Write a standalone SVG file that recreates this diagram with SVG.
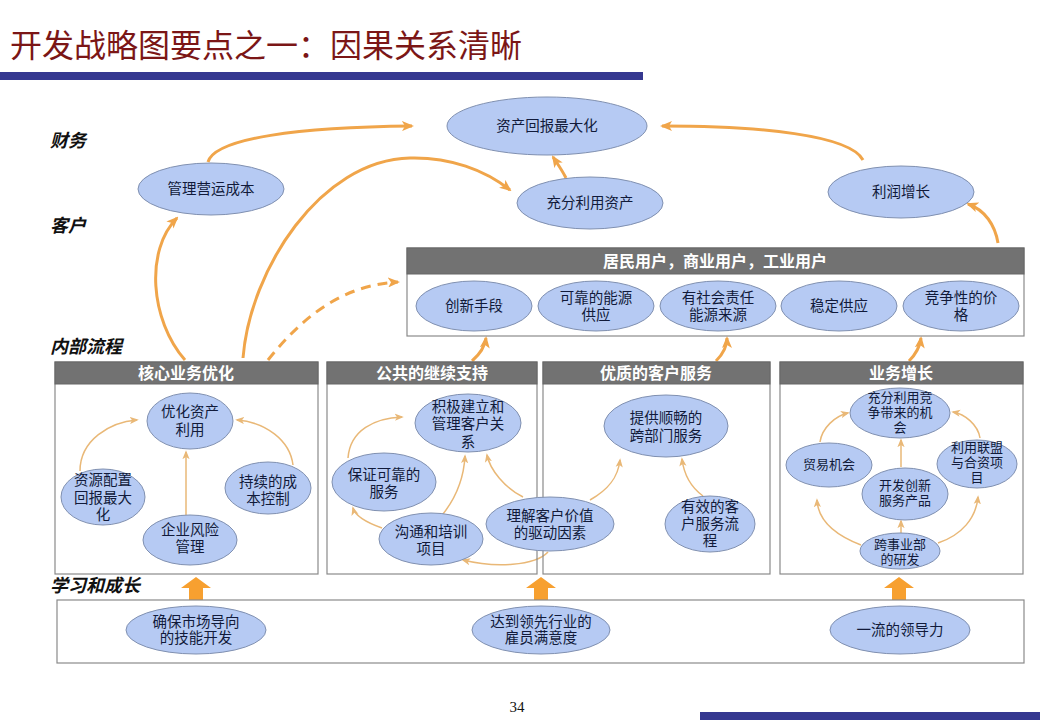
<svg xmlns="http://www.w3.org/2000/svg" width="1040" height="720" viewBox="0 0 1040 720">
<style>
.t{font-family:"Liberation Sans","Noto Sans CJK SC",sans-serif;fill:#111a3a;text-anchor:middle;font-size:14.5px}
.s{font-size:13px}
.e{fill:#b6caf3;stroke:#8090b0;stroke-width:1}
.hd{fill:#727272;stroke:#666;stroke-width:1}
.bx{fill:none;stroke:#8a8a8a;stroke-width:1.2}
.ht{font-family:"Liberation Sans","Noto Sans CJK SC",sans-serif;fill:#fff;font-weight:bold;text-anchor:middle;font-size:16px}
.lv{font-family:"Liberation Serif","Noto Sans CJK SC",serif;font-style:italic;font-weight:bold;font-size:18px;fill:#111}
.k{fill:none;stroke:#f0a54a;stroke-width:3}
.n{fill:none;stroke:#e9b877;stroke-width:1.5}
</style>
<defs>
<marker id="ak" viewBox="0 0 12 10" refX="10" refY="5" markerWidth="12" markerHeight="10" markerUnits="userSpaceOnUse" orient="auto"><path d="M0,0 L12,5 L0,10 L3,5 z" fill="#f0a54a"/></marker>
<marker id="an" viewBox="0 0 10 8" refX="8" refY="4" markerWidth="9" markerHeight="8" markerUnits="userSpaceOnUse" orient="auto"><path d="M0,0 L10,4 L0,8 L2.5,4 z" fill="#e9b877"/></marker>
</defs>
<rect width="1040" height="720" fill="#fff"/>
<text x="10" y="57" font-family="Liberation Serif,Noto Sans CJK SC,serif" font-size="32" fill="#7b1616">开发战略图要点之一：因果关系清晰</text>
<rect x="0" y="72" width="643" height="8" fill="#353890"/>
<rect x="700" y="712" width="340" height="8" fill="#353890"/>
<text x="517" y="712" font-family="Liberation Serif,serif" font-size="15" text-anchor="middle" fill="#111">34</text>

<text class="lv" x="50" y="147">财务</text>
<text class="lv" x="50" y="232">客户</text>
<text class="lv" x="50" y="353">内部流程</text>
<text class="lv" x="50" y="592">学习和成长</text>

<g id="connectors">
<path class="k" marker-end="url(#ak)" d="M208,162 C 215,138 300,127 412,126"/>
<path class="k" marker-end="url(#ak)" d="M243,358 C 250,270 320,160 410,158 C 450,157 485,170 510,190"/>
<path class="k" marker-end="url(#ak)" d="M566,178 C 562,170 557,163 553,157"/>
<path class="k" marker-end="url(#ak)" d="M863,160 C 850,135 760,126 662,126"/>
<path class="k" marker-end="url(#ak)" d="M998,243 C 995,225 985,210 968,204"/>
<path class="k" marker-end="url(#ak)" d="M185,360 C 150,320 145,250 177,218"/>
<path class="k" stroke-dasharray="10 7" marker-end="url(#ak)" d="M268,360 C 300,320 340,285 398,282"/>
<path class="k" marker-end="url(#ak)" d="M472,361 C 480,354 485,346 486,338"/>
<path class="k" marker-end="url(#ak)" d="M716,361 C 723,354 727,346 727,338"/>
<path class="k" marker-end="url(#ak)" d="M909,361 C 916,354 920,346 921,338"/>
<path class="n" marker-end="url(#an)" d="M80,471 C 80,440 110,422 137,420"/>
<path class="n" marker-end="url(#an)" d="M293,465 C 290,440 265,422 237,420"/>
<path class="n" marker-end="url(#an)" d="M186,515 L186,452"/>
<path class="n" marker-end="url(#an)" d="M348,458 C 350,430 375,418 402,417"/>
<path class="n" marker-end="url(#an)" d="M382,528 C 365,522 355,515 353,508"/>
<path class="n" marker-end="url(#an)" d="M443,514 C 458,495 464,475 465,456"/>
<path class="n" marker-end="url(#an)" d="M523,497 C 505,488 490,470 487,455"/>
<path class="n" marker-end="url(#an)" d="M548,552 C 535,566 495,568 463,560"/>
<path class="n" marker-end="url(#an)" d="M590,500 C 608,490 618,478 620,460"/>
<path class="n" marker-end="url(#an)" d="M703,496 C 692,488 684,475 682,459"/>
<path class="n" marker-end="url(#an)" d="M820,442 C 822,428 835,416 848,413"/>
<path class="n" marker-end="url(#an)" d="M980,438 C 978,425 965,414 953,412"/>
<path class="n" marker-end="url(#an)" d="M901,467 L901,440"/>
<path class="n" marker-end="url(#an)" d="M901,534 L901,521"/>
<path class="n" marker-end="url(#an)" d="M861,545 C 835,535 818,520 817,500"/>
<path class="n" marker-end="url(#an)" d="M938,543 C 962,535 976,518 978,497"/>
<g fill="#f7a030">
<polygon points="196,577 211,588 203,588 203,600 189,600 189,588 181,588"/>
<polygon points="541,577 556,588 548,588 548,600 534,600 534,588 526,588"/>
<polygon points="899,577 914,588 906,588 906,600 892,600 892,588 884,588"/>
</g>
</g>

<g id="f1"><ellipse class="e" cx="547" cy="126" rx="100" ry="29"/><text class="t" x="547" y="131">资产回报最大化</text></g>
<g id="f2"><ellipse class="e" cx="211" cy="189" rx="73" ry="26"/><text class="t" x="211" y="194">管理营运成本</text></g>
<g id="f3"><ellipse class="e" cx="590" cy="203" rx="73" ry="26"/><text class="t" x="590" y="208">充分利用资产</text></g>
<g id="f4"><ellipse class="e" cx="901" cy="192" rx="73" ry="26"/><text class="t" x="901" y="197">利润增长</text></g>

<g id="customer">
<rect class="bx" x="407" y="248" width="617" height="88"/>
<rect class="hd" x="407" y="248" width="617" height="26"/>
<text class="ht" x="715" y="267" font-size="15.5">居民用户，商业用户，工业用户</text>
<g id="c1"><ellipse class="e" cx="474" cy="306" rx="58" ry="25"/><text class="t" x="474" y="311">创新手段</text></g>
<g id="c2"><ellipse class="e" cx="596" cy="306" rx="58" ry="25"/><text class="t" x="596" y="303">可靠的能源</text><text class="t" x="596" y="320">供应</text></g>
<g id="c3"><ellipse class="e" cx="718" cy="306" rx="58" ry="25"/><text class="t" x="718" y="303">有社会责任</text><text class="t" x="718" y="320">能源来源</text></g>
<g id="c4"><ellipse class="e" cx="839" cy="306" rx="58" ry="25"/><text class="t" x="839" y="311">稳定供应</text></g>
<g id="c5"><ellipse class="e" cx="961" cy="306" rx="58" ry="25"/><text class="t" x="961" y="303">竞争性的价</text><text class="t" x="961" y="320">格</text></g>
</g>

<g id="core">
<rect class="bx" x="55" y="362" width="263" height="212"/>
<rect class="hd" x="55" y="362" width="263" height="22"/>
<text class="ht" x="186" y="379">核心业务优化</text>
<g id="p1"><ellipse class="e" cx="190" cy="421" rx="43" ry="28"/><text class="t" x="190" y="417">优化资产</text><text class="t" x="190" y="435">利用</text></g>
<g id="p2"><ellipse class="e" cx="103" cy="497" rx="42" ry="28"/><text class="t" x="103" y="485">资源配置</text><text class="t" x="103" y="503">回报最大</text><text class="t" x="103" y="520">化</text></g>
<g id="p3"><ellipse class="e" cx="268" cy="488" rx="43" ry="26"/><text class="t" x="268" y="487">持续的成</text><text class="t" x="268" y="504">本控制</text></g>
<g id="p4"><ellipse class="e" cx="190" cy="540" rx="47" ry="25"/><text class="t" x="190" y="535">企业风险</text><text class="t" x="190" y="552">管理</text></g>
</g>

<g id="public">
<rect class="bx" x="327" y="362" width="210" height="212"/>
<rect class="hd" x="327" y="362" width="210" height="22"/>
<text class="ht" x="432" y="379">公共的继续支持</text>
<g id="q1"><ellipse class="e" cx="468" cy="423" rx="53" ry="29"/><text class="t" x="468" y="412">积极建立和</text><text class="t" x="468" y="429">管理客户关</text><text class="t" x="468" y="447">系</text></g>
<g id="q2"><ellipse class="e" cx="384" cy="482" rx="52" ry="29"/><text class="t" x="384" y="480">保证可靠的</text><text class="t" x="384" y="497">服务</text></g>
<g id="q3"><ellipse class="e" cx="431" cy="539" rx="52" ry="26"/><text class="t" x="431" y="537">沟通和培训</text><text class="t" x="431" y="554">项目</text></g>
</g>

<g id="service">
<rect class="bx" x="543" y="362" width="227" height="212"/>
<rect class="hd" x="543" y="362" width="227" height="22"/>
<text class="ht" x="656" y="379">优质的客户服务</text>
<g id="r1"><ellipse class="e" cx="666" cy="426" rx="62" ry="31"/><text class="t" x="666" y="423">提供顺畅的</text><text class="t" x="666" y="441">跨部门服务</text></g>
<g id="r2"><ellipse class="e" cx="710" cy="524" rx="45" ry="28"/><text class="t" x="710" y="512">有效的客</text><text class="t" x="710" y="529">户服务流</text><text class="t" x="710" y="546">程</text></g>
</g>
<g id="q4"><ellipse class="e" cx="550" cy="524" rx="64" ry="27"/><text class="t" x="550" y="521">理解客户价值</text><text class="t" x="550" y="538">的驱动因素</text></g>

<g id="growth">
<rect class="bx" x="780" y="362" width="243" height="212"/>
<rect class="hd" x="780" y="362" width="243" height="22"/>
<text class="ht" x="901" y="379">业务增长</text>
<g id="g1"><ellipse class="e" cx="900" cy="413" rx="50" ry="25"/><text class="t s" x="900" y="402">充分利用竞</text><text class="t s" x="900" y="417">争带来的机</text><text class="t s" x="900" y="432">会</text></g>
<g id="g2"><ellipse class="e" cx="829" cy="465" rx="43" ry="22"/><text class="t s" x="829" y="469">贸易机会</text></g>
<g id="g3"><ellipse class="e" cx="977" cy="464" rx="40" ry="24"/><text class="t s" x="977" y="452">利用联盟</text><text class="t s" x="977" y="467">与合资项</text><text class="t s" x="977" y="482">目</text></g>
<g id="g4"><ellipse class="e" cx="905" cy="494" rx="43" ry="26"/><text class="t s" x="905" y="490">开发创新</text><text class="t s" x="905" y="505">服务产品</text></g>
<g id="g5"><ellipse class="e" cx="900" cy="551" rx="40" ry="18"/><text class="t s" x="900" y="549">跨事业部</text><text class="t s" x="900" y="564">的研发</text></g>
</g>

<g id="learning">
<rect class="bx" x="57" y="600" width="967" height="63"/>
<g id="l1"><ellipse class="e" cx="196" cy="630" rx="70" ry="24"/><text class="t" x="196" y="627" font-size="14">确保市场导向</text><text class="t" x="196" y="643" font-size="14">的技能开发</text></g>
<g id="l2"><ellipse class="e" cx="541" cy="630" rx="69" ry="24"/><text class="t" x="541" y="627" font-size="14">达到领先行业的</text><text class="t" x="541" y="643" font-size="14">雇员满意度</text></g>
<g id="l3"><ellipse class="e" cx="900" cy="630" rx="70" ry="24"/><text class="t" x="900" y="635" font-size="14">一流的领导力</text></g>
</g>
</svg>
